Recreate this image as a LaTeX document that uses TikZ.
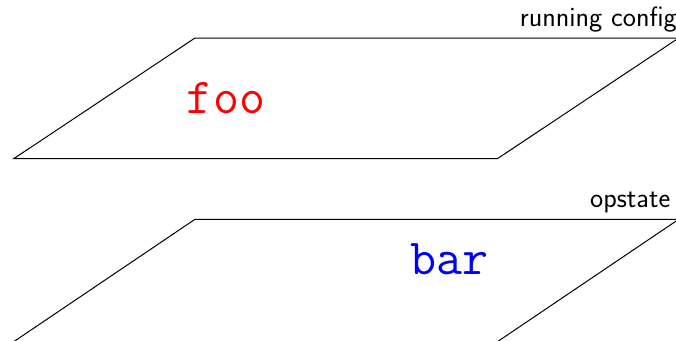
\documentclass[tikz,border=0pt]{standalone}
\begin{document}
\begin{tikzpicture}[x=1pt,y=-1pt,
  plane/.style={draw=black,line width=1pt,line join=miter},
  lbl/.style={inner sep=0pt,anchor=base east,font=\fontsize{28}{32}\selectfont\sffamily},
  word/.style={inner sep=0pt,anchor=base,font=\fontsize{50.5}{56}\selectfont\ttfamily}]
\useasboundingbox (0,0) rectangle (676,340);
% running config plane
\coordinate (a1) at (14,158.5);
\coordinate (a2) at (497.7,158.5);
\coordinate (a3) at (678.7,38);
\coordinate (a4) at (195,38);
\draw[plane] (a1) -- (a2) -- (a3) -- (a4) -- cycle;
% opstate plane
\coordinate (b1) at (11.8,343);
\coordinate (b2) at (495.5,343);
\coordinate (b3) at (678.7,219.3);
\coordinate (b4) at (195,219.3);
\draw[plane] (b1) -- (b2) -- (b3) -- (b4) -- cycle;
\node[lbl] (rc) at (677,26) {running config};
\node[lbl] (op) at (670.5,207.3) {opstate};
\node[word,text=red] (foo) at (226,113.3) {foo};
\node[word,text=blue] (bar) at (449.5,274.7) {bar};
\end{tikzpicture}
\end{document}
